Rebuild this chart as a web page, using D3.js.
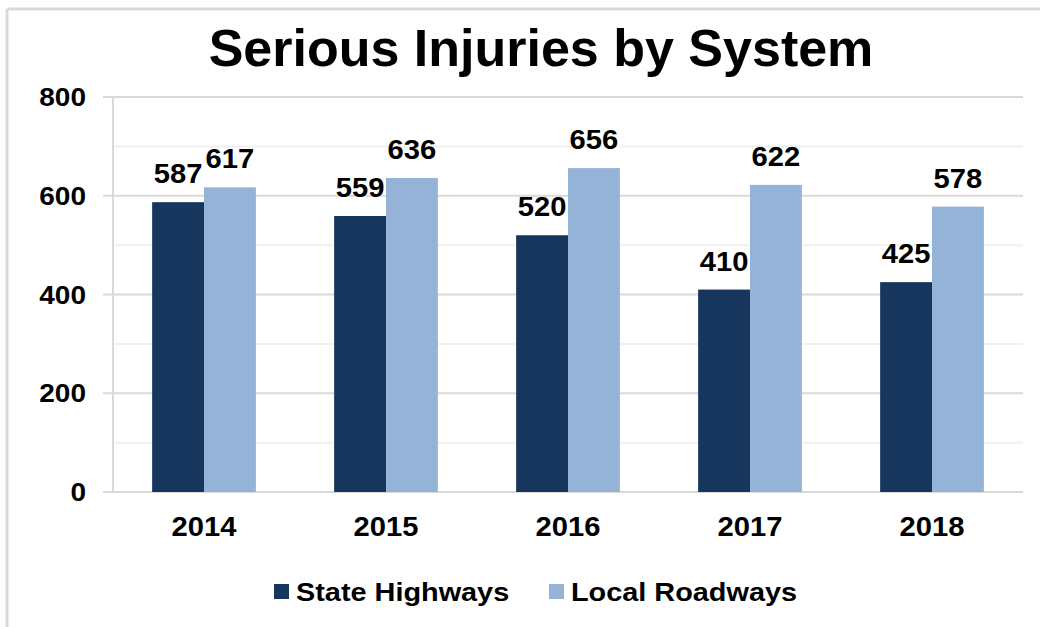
<!DOCTYPE html>
<html>
<head>
<meta charset="utf-8">
<script src="https://cdn.jsdelivr.net/npm/d3@7"></script>
<style>
  body { margin: 0; background: #fff; }
  svg text { font-family: "Liberation Sans", Arial, sans-serif; font-weight: bold; fill: #000; }
</style>
</head>
<body>
<div id="chart"></div>
<script>
var years = ["2014", "2015", "2016", "2017", "2018"];
var stateHighways = [587, 559, 520, 410, 425];
var localRoadways = [617, 636, 656, 622, 578];
var seriesNames = ["State Highways", "Local Roadways"];
var seriesColors = ["#17365d", "#95b3d7"];
var yTicks = [0, 200, 400, 600, 800];
var yMinor = [100, 300, 500, 700];

var width = 1040, height = 627;
var margin = {top: 97, right: 17, bottom: 135, left: 113};

var svg = d3.select("#chart").append("svg")
    .attr("width", width)
    .attr("height", height);

// outer frame (only top and left edges show)
svg.append("line").attr("x1", 7).attr("x2", width).attr("y1", 9).attr("y2", 9)
    .style("stroke", "#d9d9d9").style("stroke-width", 3);
svg.append("line").attr("x1", 7).attr("x2", 7).attr("y1", 9).attr("y2", height)
    .style("stroke", "#d9d9d9").style("stroke-width", 3);

// numbers in the picture are drawn a bit wide
function stext(sel, x, y, k) {
    return sel.attr("transform", "translate(" + x + "," + y + ") scale(" + k + ",1)");
}

stext(svg.append("text"), 541, 66, 1)
    .attr("text-anchor", "middle")
    .style("font-size", "52px")
    .text("Serious Injuries by System");

var x0 = d3.scaleBand().domain(years)
    .range([margin.left, width - margin.right])
    .paddingInner(0.43).paddingOuter(0.215);
var x1 = d3.scaleBand().domain([0, 1]).range([0, x0.bandwidth()]);
var y = d3.scaleLinear().domain([0, 800]).range([height - margin.bottom, margin.top]);

// gridlines
svg.append("g").selectAll("line").data(yMinor).enter().append("line")
    .attr("x1", margin.left).attr("x2", width - margin.right)
    .attr("y1", function (d) { return y(d); }).attr("y2", function (d) { return y(d); })
    .style("stroke", "#f0f0f0").style("stroke-width", 2);
svg.append("g").selectAll("line").data(yTicks).enter().append("line")
    .attr("x1", margin.left - 10).attr("x2", width - margin.right)
    .attr("y1", function (d) { return y(d); }).attr("y2", function (d) { return y(d); })
    .style("stroke", "#d9d9d9").style("stroke-width", 2);
svg.append("line")
    .attr("x1", margin.left).attr("x2", margin.left)
    .attr("y1", y(800)).attr("y2", y(0))
    .style("stroke", "#d9d9d9").style("stroke-width", 2);

// y labels
svg.append("g").selectAll("text").data(yTicks).enter().append("text")
    .each(function (d) { stext(d3.select(this), 86, y(d) + 9, 1.12); })
    .attr("text-anchor", "end")
    .style("font-size", "25px")
    .text(function (d) { return d; });

// bars
var series = [stateHighways, localRoadways];
series.forEach(function (vals, si) {
    var g = svg.append("g");
    g.selectAll("rect").data(vals).enter().append("rect")
        .attr("x", function (d, i) { return x0(years[i]) + x1(si); })
        .attr("width", x1.bandwidth())
        .attr("y", function (d) { return y(d); })
        .attr("height", function (d) { return y(0) - y(d); })
        .style("fill", seriesColors[si]);
    g.selectAll("text").data(vals).enter().append("text")
        .each(function (d, i) {
            stext(d3.select(this), x0(years[i]) + x1(si) + x1.bandwidth() / 2, y(d) - 19, 1.08);
        })
        .attr("text-anchor", "middle")
        .style("font-size", "27px")
        .text(function (d) { return d; });
});

// x labels
svg.append("g").selectAll("text").data(years).enter().append("text")
    .each(function (d) { stext(d3.select(this), x0(d) + x0.bandwidth() / 2, 536, 1.08); })
    .attr("text-anchor", "middle")
    .style("font-size", "27px")
    .text(function (d) { return d; });

// legend
var legendX = [274, 549];
seriesNames.forEach(function (name, i) {
    svg.append("rect")
        .attr("x", legendX[i]).attr("y", 584)
        .attr("width", 15).attr("height", 15)
        .style("fill", seriesColors[i]);
    stext(svg.append("text"), legendX[i] + 22, 601, 1.11)
        .style("font-size", "26px")
        .text(name);
});
</script>
</body>
</html>
